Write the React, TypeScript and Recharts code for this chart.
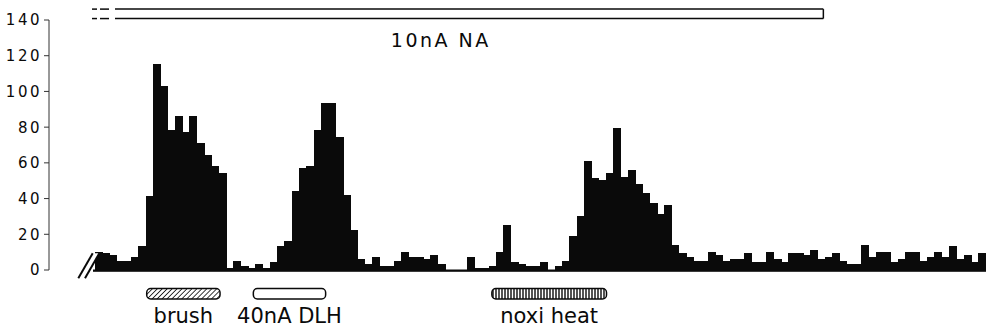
import React from 'react';
import { BarChart, Bar, XAxis, YAxis, ReferenceArea } from 'recharts';

// spikes per bin (122 bins)
const counts = [
  10, 9, 8, 5, 5, 7, 13, 41, 115, 103,
  78, 86, 77, 86, 71, 64, 58, 54, 1, 5,
  2, 1, 3, 1, 4, 13, 16, 44, 57, 58,
  78, 93, 93, 74, 42, 22, 6, 3, 7, 2,
  2, 5, 10, 7, 7, 6, 8, 3, 0, 0,
  0, 7, 1, 1, 2, 10, 25, 4, 3, 2,
  2, 4, 0, 2, 5, 19, 30, 61, 51, 50,
  54, 79, 52, 56, 48, 43, 37, 31, 36, 14,
  9, 7, 5, 5, 10, 8, 5, 6, 6, 9,
  4, 4, 10, 6, 4, 9, 9, 8, 11, 6,
  7, 9, 5, 3, 3, 14, 7, 10, 10, 4,
  6, 10, 10, 5, 7, 10, 7, 13, 6, 8,
  4, 9,
];

const yTicks = [0, 20, 40, 60, 80, 100, 120, 140];

// stimulus periods, in bin units
const stimLabels = ['brush', '40nA DLH', 'noxi heat'];
const stimStart = [7.08, 21.68, 54.34];
const stimEnd = [17.12, 31.58, 70.04];

// drug application (continues from before the record)
const drugLabel = '10nA NA';
const drugStart = 2.74;
const drugEnd = 99.73;

const data = counts.map((count, i) => ({ t: i + 0.5, count }));

const FONT = '"DejaVu Sans", Verdana, sans-serif';
const INK = '#0a0a0a';
const stimFills = ['url(#hatch)', '#fff', 'url(#stripes)'];

const YTick = ({ x, y, payload }: any) => (
  <text x={x} y={y} dy="0.36em" textAnchor="end" fontSize={15} fontFamily={FONT}
    letterSpacing={2.5} fill={INK}>
    {payload.value}
  </text>
);

const StimBar = ({ x, y, width, height, label, fill }: any) => (
  <g>
    <rect x={x} y={y} width={width} height={height} rx={4} fill={fill} stroke={INK} strokeWidth={1.5} />
    <text x={x + width / 2} y={y + height + 24} textAnchor="middle" fontSize={21}
      fontFamily={FONT} fill={INK}>
      {label}
    </text>
  </g>
);

const DrugBar = ({ x, y, width, height }: any) => (
  <g stroke={INK} strokeWidth={1.5} fill="none">
    <line x1={x} y1={y} x2={x + width} y2={y} />
    <line x1={x} y1={y + height} x2={x + width} y2={y + height} />
    <line x1={x + width} y1={y} x2={x + width} y2={y + height} />
    <line x1={x - 23} y1={y} x2={x - 18} y2={y} />
    <line x1={x - 15} y1={y} x2={x - 6} y2={y} />
    <line x1={x - 23} y1={y + height} x2={x - 18} y2={y + height} />
    <line x1={x - 15} y1={y + height} x2={x - 6} y2={y + height} />
    <text x={x + width * 0.46} y={y + height + 28.5} textAnchor="middle" fontSize={19}
      fontFamily={FONT} letterSpacing={2.5} fill={INK} stroke="none">
      {drugLabel}
    </text>
  </g>
);

// baseline with the "//" break at the start
const Baseline = ({ x, y, width }: any) => (
  <g>
    <rect x={x - 2} y={y - 0.5} width={width + 2} height={2.3} fill={INK} />
    <polygon
      points={`${x - 16.7},${y + 8.3} ${x - 2.3},${y - 16.7} ${x + 4.3},${y - 16.7} ${x - 10},${y + 8.3}`}
      fill="#fff" />
    <line x1={x - 16.7} y1={y + 8.3} x2={x - 2.3} y2={y - 16.7} stroke={INK} strokeWidth={2} />
    <line x1={x - 10} y1={y + 8.3} x2={x + 4.3} y2={y - 16.7} stroke={INK} strokeWidth={2} />
  </g>
);

export default function App() {
  return (
    <div style={{ position: 'absolute', left: 0, top: 0, width: 988, height: 334, background: '#fff' }}>
      <BarChart width={988} height={334} data={data}
        margin={{ top: 20, right: 2, bottom: 64, left: 0 }}
        barCategoryGap={0} barGap={0}>
        <defs>
          <pattern id="hatch" width="3.5" height="3.5" patternUnits="userSpaceOnUse"
            patternTransform="rotate(45)">
            <rect width="3.5" height="3.5" fill="#fff" />
            <line x1="0" y1="0" x2="0" y2="3.5" stroke={INK} strokeWidth="1.6" />
          </pattern>
          <pattern id="stripes" width="3" height="3" patternUnits="userSpaceOnUse">
            <rect width="3" height="3" fill="#fff" />
            <line x1="1" y1="0" x2="1" y2="3" stroke={INK} strokeWidth="1.4" />
          </pattern>
        </defs>
        <XAxis dataKey="t" type="number" domain={[0, counts.length]} hide
          padding={{ left: 46, right: 0 }} />
        <YAxis domain={[0, 140]} ticks={yTicks} interval={0} width={49} tickSize={5}
          tickMargin={2} axisLine={{ stroke: '#333' }} tickLine={{ stroke: '#333' }}
          tick={<YTick />} />
        <Bar dataKey="count" fill={INK} stroke={INK} strokeWidth={1} shapeRendering="crispEdges"
          isAnimationActive={false} />
        <ReferenceArea x1={0} x2={counts.length} y1={-1.3} y2={0} ifOverflow="visible"
          zIndex={600} shape={(p: any) => <Baseline {...p} />} />
        <ReferenceArea x1={drugStart} x2={drugEnd} y1={140.8} y2={146.1} ifOverflow="visible"
          zIndex={600} shape={(p: any) => <DrugBar {...p} />} />
        {stimLabels.map((label, i) => (
          <ReferenceArea key={label} x1={stimStart[i]} x2={stimEnd[i]} y1={-16.2} y2={-10.4}
            ifOverflow="visible" zIndex={600}
            shape={(p: any) => <StimBar {...p} label={label} fill={stimFills[i]} />} />
        ))}
      </BarChart>
    </div>
  );
}
